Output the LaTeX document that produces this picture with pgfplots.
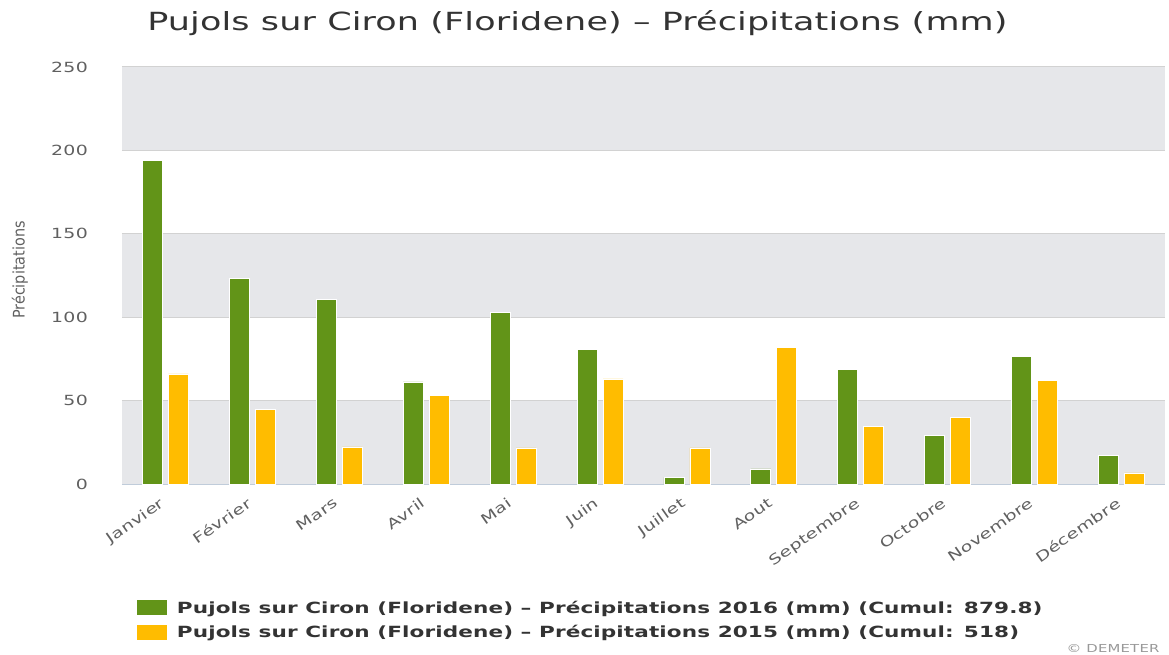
\documentclass[border=0pt]{standalone}
\usepackage{fontspec}
\setmainfont{DejaVu Sans}
\newfontfamily\titlefont[FakeStretch=1.4, LetterSpace=0.5]{DejaVu Sans}
\newfontfamily\tickfont[FakeStretch=1.35, LetterSpace=2]{DejaVu Sans}
\newfontfamily\legfont[FakeStretch=1.4, LetterSpace=0.7]{DejaVu Sans}
\newfontfamily\condfont{DejaVu Sans Condensed}
\usepackage{pgfplots}
\pgfplotsset{compat=1.18}
\definecolor{cgreen}{HTML}{629418}
\definecolor{cyellow}{HTML}{FFBC00}
\definecolor{band}{HTML}{E6E7EA}
\definecolor{gridc}{HTML}{D2D2D2}
\definecolor{axisc}{HTML}{C0CCDA}
\definecolor{tickc}{HTML}{606060}
\definecolor{titlec}{HTML}{333333}
\begin{document}
\begin{tikzpicture}
\useasboundingbox (-122pt,-171pt) rectangle (1047pt,484pt);
\begin{axis}[
  at={(0,0)}, anchor=south west,
  scale only axis, width=1043pt, height=417pt,
  xmin=-0.5, xmax=11.5, ymin=0, ymax=250,
  ybar,
  axis x line*=bottom, axis y line*=left,
  x axis line style={draw=axisc, line width=1pt},
  y axis line style={draw=none},
  xtick={0,...,11},
  xticklabels={Janvier,Février,Mars,Avril,Mai,Juin,Juillet,Aout,Septembre,Octobre,Novembre,Décembre},
  xtick style={draw=none},
  extra x ticks={-0.5,0.5,...,11.5},
  extra x tick labels={},
  extra x tick style={major tick length=13pt, tick align=outside, tick style={draw=axisc, line width=1pt}},
  xticklabel style={font=\fontsize{14}{16}\selectfont\tickfont, text=tickc, rotate=35, anchor=north east, inner sep=1pt, xshift=-9pt, yshift=-2.3pt},
  ytick={0,50,...,250},
  ytick style={draw=none},
  yticklabel style={font=\fontsize{14}{16}\selectfont\tickfont, text=tickc, anchor=east, inner sep=0pt, xshift=-34pt},
  /pgf/number format/assume math mode=true,
  legend style={at={(axis description cs:0.0105,-0.27)}, anchor=north west, draw=none, fill=none,
    font=\fontsize{15.4}{19}\selectfont\legfont\bfseries, text=titlec, row sep=7pt},
  legend image code/.code={\fill[#1] (0pt,-7.5pt) rectangle (31pt,8pt); \path (38pt,0pt);},
  legend cell align=left,
  clip=false,
]
\fill[band] (axis cs:-0.5,0) rectangle (axis cs:11.5,50);
\fill[band] (axis cs:-0.5,100) rectangle (axis cs:11.5,150);
\fill[band] (axis cs:-0.5,200) rectangle (axis cs:11.5,250);
\draw[gridc, line width=1pt] (axis cs:-0.5,50) -- (axis cs:11.5,50);
\draw[gridc, line width=1pt] (axis cs:-0.5,100) -- (axis cs:11.5,100);
\draw[gridc, line width=1pt] (axis cs:-0.5,150) -- (axis cs:11.5,150);
\draw[gridc, line width=1pt] (axis cs:-0.5,200) -- (axis cs:11.5,200);
\draw[gridc, line width=1pt] (axis cs:-0.5,250) -- (axis cs:11.5,250);
\addplot[fill=cgreen, draw=white, line width=0.8pt, bar width=20pt, bar shift=-13pt] coordinates {
(0,194.2) (1,123.2) (2,110.5) (3,61.2) (4,102.6) (5,80.5) (6,4.0) (7,9.0) (8,68.5) (9,29.0) (10,76.2) (11,17.3)};
\addplot[fill=cyellow, draw=white, line width=0.8pt, bar width=20pt, bar shift=13pt] coordinates {
(0,66.0) (1,44.5) (2,22.2) (3,53.0) (4,21.6) (5,63.0) (6,21.6) (7,82.0) (8,34.5) (9,40.0) (10,62.0) (11,6.6)};
\legend{Pujols sur Ciron (Floridene) – Précipitations 2016 (mm) (Cumul: 879.8), Pujols sur Ciron (Floridene) – Précipitations 2015 (mm) (Cumul: 518)}
\node[font=\fontsize{25}{30}\selectfont\titlefont, text=titlec, anchor=base] at (axis cs:4.74,0) [yshift=453pt] {Pujols sur Ciron (Floridene) – Précipitations (mm)};
\node[font=\fontsize{16}{19}\selectfont\condfont, text=tickc, rotate=90, anchor=center] at (axis description cs:-0.0978,0.513) {Précipitations};
\node[font=\fontsize{11}{13}\selectfont\tickfont, text=gray!80, anchor=base east] at (axis description cs:1,0) [xshift=-2pt, yshift=-168pt] {© DEMETER};
\end{axis}
\end{tikzpicture}
\end{document}
